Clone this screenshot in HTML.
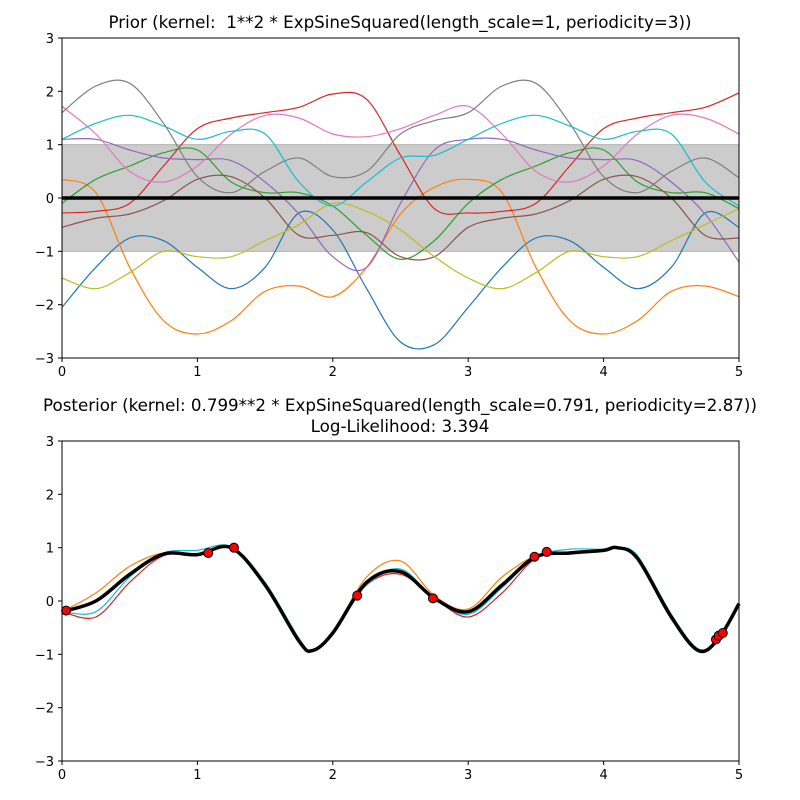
<!DOCTYPE html>
<html><head><meta charset="utf-8"><style>
body{margin:0;background:#fff}
svg{display:block;font-family:"DejaVu Sans","Liberation Sans",sans-serif}
text{white-space:pre}
</style></head><body>
<svg id="c" width="800" height="800" xmlns="http://www.w3.org/2000/svg"></svg>
<script>
const priorX=[0,0.25,0.5,0.75,1,1.25,1.5,1.75,2,2.25,2.5,2.75,3,3.25,3.5,3.75,4,4.25,4.5,4.75,5];
const priorBlue=[-2.05,-1.3,-0.75,-0.8,-1.3,-1.7,-1.3,-0.28,-0.6,-1.7,-2.7,-2.75,-2.05,-1.3,-0.75,-0.8,-1.3,-1.7,-1.3,-0.28,-0.55];
const priorOrange=[0.35,0.1,-1.3,-2.3,-2.55,-2.3,-1.75,-1.65,-1.85,-1.3,-0.3,0.2,0.35,0.1,-1.3,-2.3,-2.55,-2.3,-1.75,-1.65,-1.85];
const priorGreen=[-0.1,0.35,0.6,0.85,0.9,0.3,0.1,0.1,-0.15,-0.7,-1.15,-0.8,-0.1,0.35,0.6,0.85,0.9,0.3,0.1,0.1,-0.2];
const priorRed=[-0.28,-0.25,-0.1,0.6,1.3,1.5,1.6,1.7,1.95,1.85,0.8,-0.2,-0.28,-0.25,-0.1,0.6,1.3,1.5,1.6,1.7,1.97];
const priorPurple=[1.1,1.1,0.9,0.75,0.72,0.7,0.3,-0.3,-1.1,-1.3,-0.1,0.9,1.1,1.1,0.9,0.75,0.72,0.7,0.3,-0.3,-1.2];
const priorBrown=[-0.55,-0.38,-0.3,-0.05,0.35,0.4,0.0,-0.7,-0.7,-0.65,-1.1,-1.1,-0.55,-0.38,-0.3,-0.05,0.35,0.4,0.0,-0.7,-0.75];
const priorPink=[1.72,1.2,0.5,0.3,0.6,1.2,1.55,1.5,1.2,1.15,1.3,1.55,1.72,1.2,0.5,0.3,0.6,1.2,1.55,1.5,1.2];
const priorGray=[1.6,2.1,2.15,1.4,0.4,0.1,0.5,0.75,0.4,0.5,1.2,1.45,1.6,2.1,2.15,1.4,0.4,0.1,0.5,0.75,0.38];
const priorOlive=[-1.5,-1.7,-1.4,-1.0,-1.1,-1.1,-0.8,-0.5,-0.1,-0.25,-0.6,-1.1,-1.5,-1.7,-1.4,-1.0,-1.1,-1.1,-0.8,-0.5,-0.2];
const priorCyan=[1.1,1.4,1.55,1.35,1.1,1.25,1.2,0.3,-0.15,0.3,0.75,0.8,1.1,1.4,1.55,1.35,1.1,1.25,1.2,0.3,-0.15];

const postX=[0,0.25,0.5,0.75,1,1.25,1.5,1.75,1.85,2,2.25,2.5,2.75,3,3.25,3.5,3.75,4,4.1,4.25,4.5,4.7,4.85,5];
const postMean=[-0.2,0.0,0.5,0.88,0.87,1.0,0.3,-0.75,-0.93,-0.6,0.35,0.55,0.05,-0.2,0.3,0.83,0.9,0.95,1.0,0.8,-0.3,-0.93,-0.7,-0.05];
const postOrange=[-0.2,0.15,0.65,0.9,0.85,1.0,0.3,-0.75,-0.93,-0.6,0.45,0.75,0.1,-0.15,0.45,0.85,0.92,0.97,1.0,0.8,-0.3,-0.93,-0.7,-0.05];
const postRed=[-0.2,-0.3,0.35,0.85,0.85,1.0,0.3,-0.75,-0.93,-0.6,0.3,0.5,0.05,-0.3,0.15,0.8,0.88,0.95,1.0,0.8,-0.3,-0.93,-0.7,-0.05];
const postCyan=[-0.2,-0.2,0.45,0.9,0.95,1.02,0.35,-0.7,-0.93,-0.6,0.3,0.6,0.05,-0.25,0.25,0.83,0.97,0.97,1.0,0.85,-0.25,-0.9,-0.7,-0.05];
const obsX=[0.03,1.08,1.27,2.18,2.74,3.49,3.58,4.83,4.85,4.88];
const obsY=[-0.18,0.9,1.0,0.1,0.05,0.83,0.92,-0.72,-0.65,-0.6];
const xTicks=[0,1,2,3,4,5];
const yTicks=[-3,-2,-1,0,1,2,3];

const svg=document.getElementById('c');
const NS='http://www.w3.org/2000/svg';
function mk(t,a,txt){const e=document.createElementNS(NS,t);for(const k in a)e.setAttribute(k,a[k]);if(txt!==undefined)e.textContent=txt;svg.appendChild(e);return e;}
function axes(top,name){
  const L=62,R=739,B=top+320;
  const sx=v=>L+(v-0)/5*(R-L), sy=v=>top+(3-v)/6*320;
  return {L,R,top,B,sx,sy,name};
}
function path(ax,xs,ys){
  const p=xs.map((x,i)=>[ax.sx(x),ax.sy(ys[i])]);
  let d='M'+p[0][0]+','+p[0][1];
  for(let i=0;i<p.length-1;i++){
    const p0=p[Math.max(0,i-1)],p1=p[i],p2=p[i+1],p3=p[Math.min(p.length-1,i+2)];
    const c1=[p1[0]+(p2[0]-p0[0])/6,p1[1]+(p2[1]-p0[1])/6];
    const c2=[p2[0]-(p3[0]-p1[0])/6,p2[1]-(p3[1]-p1[1])/6];
    d+=' C'+c1[0]+','+c1[1]+' '+c2[0]+','+c2[1]+' '+p2[0]+','+p2[1];
  }
  return d;
}
function frame(ax){
  const f=mk('rect',{x:ax.L,y:ax.top,width:ax.R-ax.L,height:ax.B-ax.top,fill:'none',stroke:'#000','stroke-width':1});
  
  
  xTicks.forEach(t=>{
    const x=ax.sx(t);
    const l=mk('line',{x1:x,x2:x,y1:ax.B,y2:ax.B+4,stroke:'#000'});
    
    
    const s=mk('text',{x:x,y:ax.B+18,'text-anchor':'middle','font-size':13},String(t));
    
    
  });
  yTicks.forEach(t=>{
    const y=ax.sy(t);
    const l=mk('line',{x1:ax.L-4,x2:ax.L,y1:y,y2:y,stroke:'#000'});
    
    
    const s=mk('text',{x:ax.L-8,y:y+5,'text-anchor':'end','font-size':13},(t<0?'\u2212'+(-t):String(t)));
    
    
  });
}
function line(ax,xs,ys,color,w,name){
  const e=mk('path',{d:path(ax,xs,ys),fill:'none',stroke:color,'stroke-width':w});
  
  
}
const A=axes(38,'prior');
const band=mk('rect',{x:A.L,y:A.sy(1),width:A.R-A.L,height:A.sy(-1)-A.sy(1),fill:'#cccccc',stroke:'#b0b0b0'});


const pri=[[priorBlue,'#1f77b4'],[priorOrange,'#ff7f0e'],[priorGreen,'#2ca02c'],[priorRed,'#d62728'],[priorPurple,'#9467bd'],[priorBrown,'#8c564b'],[priorPink,'#e377c2'],[priorGray,'#7f7f7f'],[priorOlive,'#bcbd22'],[priorCyan,'#17becf']];
pri.forEach((s,i)=>line(A,priorX,s[0],s[1],1.2,'prior-sample-'+i));
const m0=mk('line',{x1:A.L,x2:A.R,y1:A.sy(0),y2:A.sy(0),stroke:'#000','stroke-width':3.5});


frame(A);
const t1=mk('text',{x:400,y:28,'text-anchor':'middle','font-size':16.7,'xml:space':'preserve'},'Prior (kernel:  1**2 * ExpSineSquared(length_scale=1, periodicity=3))');


const P=axes(441,'posterior');
line(P,postX,postRed,'#d62728',1.2,'posterior-sample-red');
line(P,postX,postOrange,'#ff7f0e',1.2,'posterior-sample-orange');
line(P,postX,postCyan,'#17becf',1.2,'posterior-sample-cyan');
line(P,postX,postMean,'#000',3.5,'posterior-mean-line');
obsX.forEach((x,i)=>{
  const c=mk('circle',{cx:P.sx(x),cy:P.sy(obsY[i]),r:4.5,fill:'#ff0000',stroke:'#000','stroke-width':1});
  
  
});
frame(P);
const t2=mk('text',{x:400,y:411,'text-anchor':'middle','font-size':16.7},'Posterior (kernel: 0.799**2 * ExpSineSquared(length_scale=0.791, periodicity=2.87))');


const t3=mk('text',{x:400,y:432,'text-anchor':'middle','font-size':16.7},'Log-Likelihood: 3.394');


</script>
</body></html>
